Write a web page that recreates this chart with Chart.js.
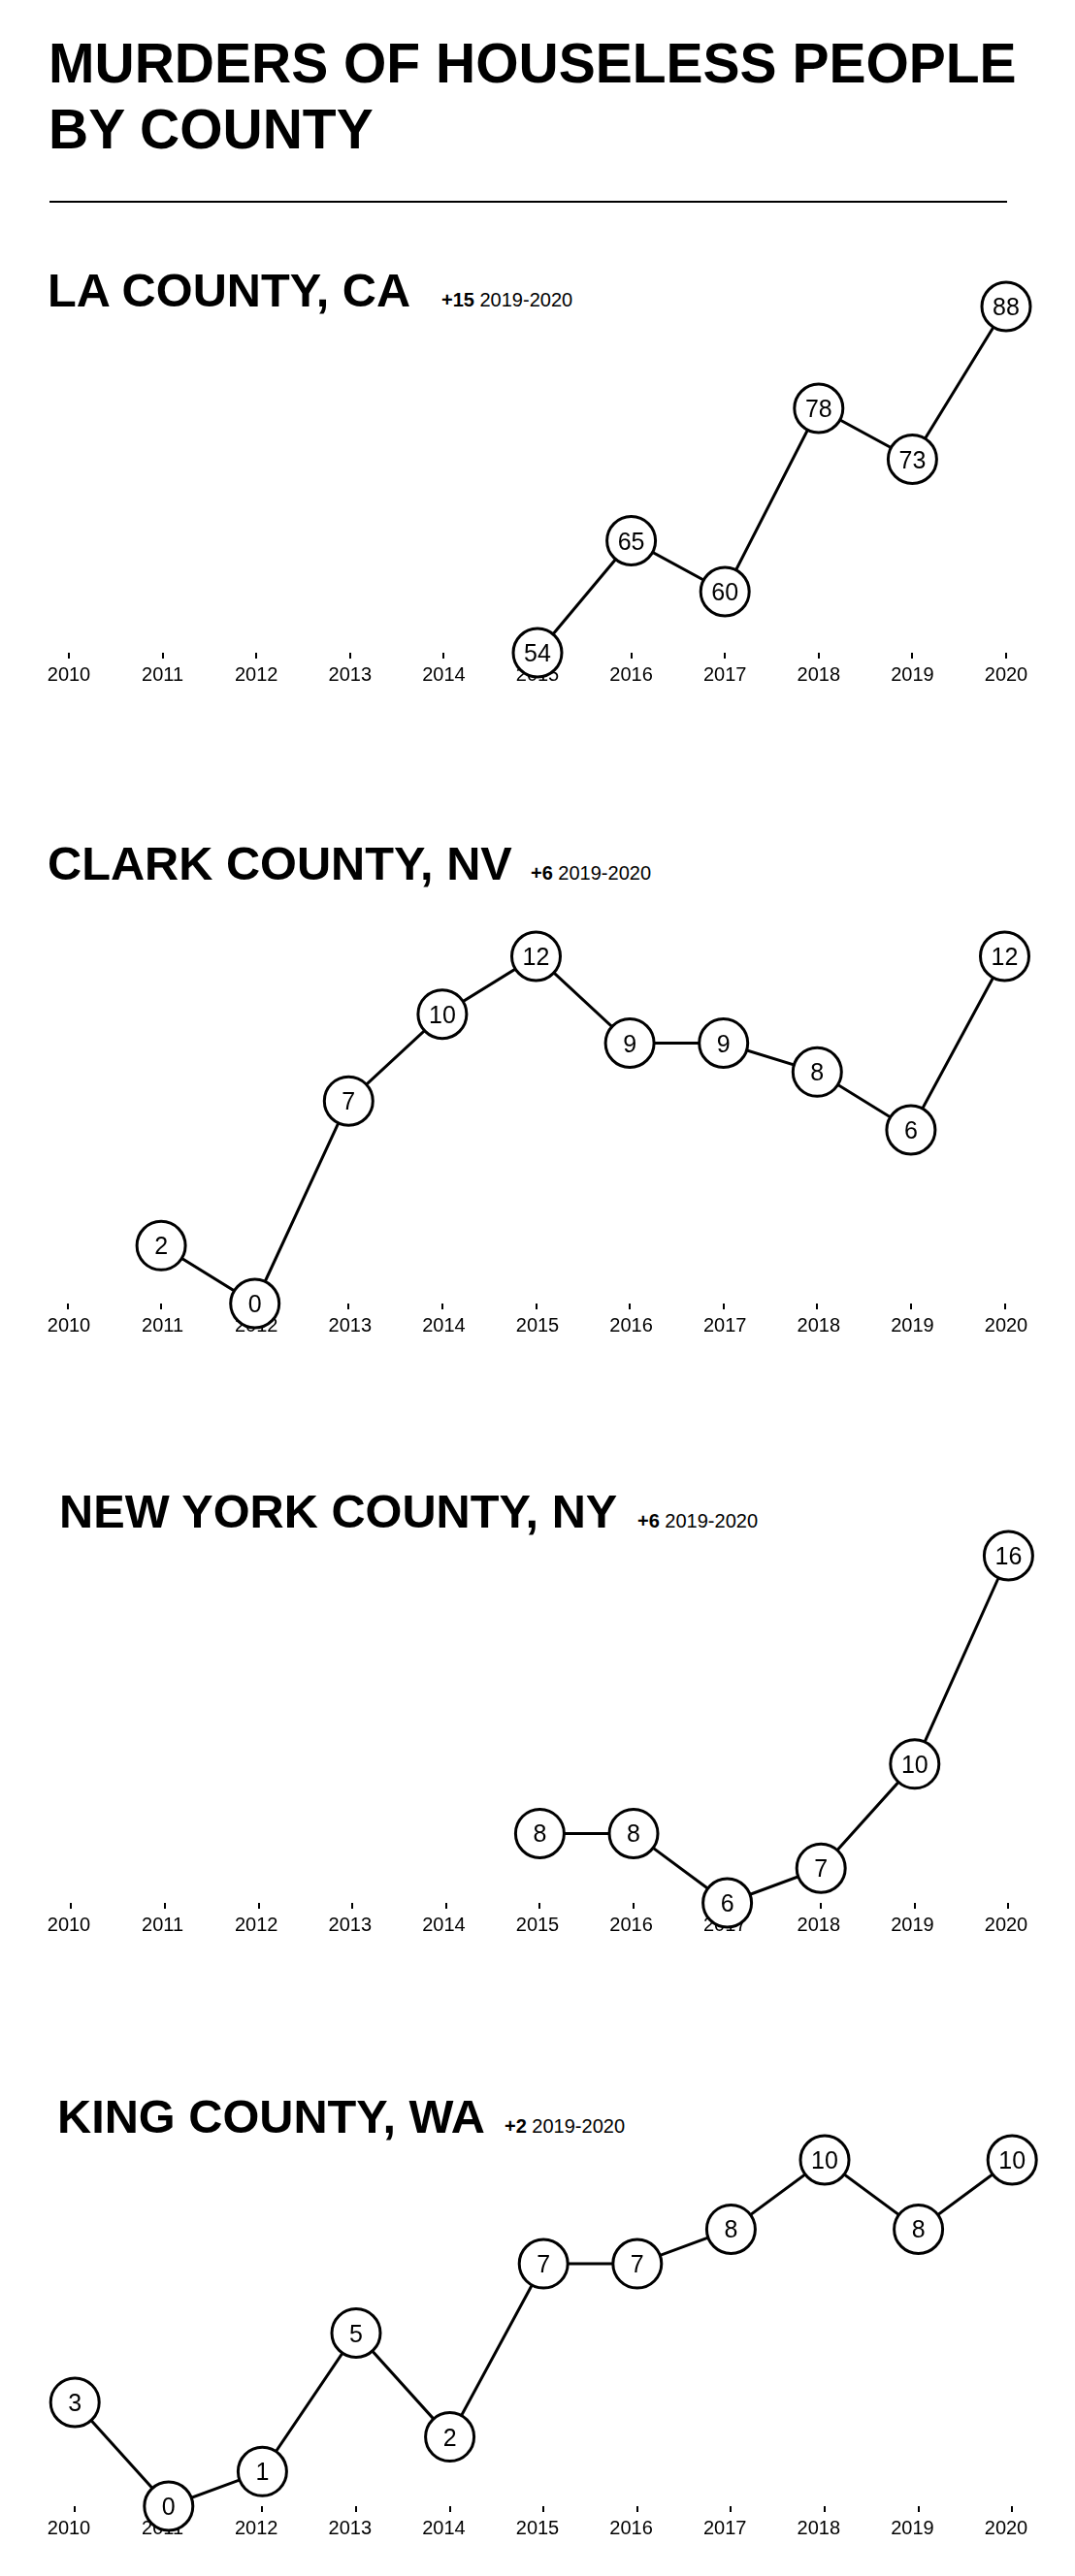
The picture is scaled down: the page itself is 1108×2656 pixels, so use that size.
<!DOCTYPE html>
<html>
<head>
<meta charset="utf-8">
<script src="https://cdn.jsdelivr.net/npm/chart.js@4.4.1/dist/chart.umd.min.js"></script>
<style>
  html, body { margin: 0; padding: 0; background: #fff; }
  body { width: 1108px; height: 2656px; position: relative; overflow: hidden; font-family: "Liberation Sans", Arial, Helvetica, sans-serif; color: #000; }
  .abs { position: absolute; white-space: nowrap; }
  .main { font-weight: bold; font-size: 57px; line-height: 57px; }
  .ctitle { font-weight: bold; font-size: 48.7px; line-height: 48.7px; }
  .sub { font-size: 20px; line-height: 20px; }
  .sub b { font-weight: bold; }
  .rule { position: absolute; height: 2px; background: #000; }
  canvas { position: absolute; left: 0; }
</style>
</head>
<body>
<script>
// ---------- DATA ----------
const years = ['2010','2011','2012','2013','2014','2015','2016','2017','2018','2019','2020'];
const laValues    = [null, null, null, null, null, 54, 65, 60, 78, 73, 88];
const clarkValues = [null, 2, 0, 7, 10, 12, 9, 9, 8, 6, 12];
const nyValues    = [null, null, null, null, null, 8, 8, 6, 7, 10, 16];
const kingValues  = [3, 0, 1, 5, 2, 7, 7, 8, 10, 8, 10];
const countyNames = ['LA COUNTY, CA', 'CLARK COUNTY, NV', 'NEW YORK COUNTY, NY', 'KING COUNTY, WA'];
const changes     = ['+15', '+6', '+6', '+2'];
const changePeriod = '2019-2020';
const mainTitleLines = ['MURDERS OF HOUSELESS PEOPLE', 'BY COUNTY'];

// ---------- LAYOUT ----------
const W = 1108;
function baselineTop(baseline, size) { return baseline - 0.8465 * size; }

function addText(cls, html, x, baseline, size) {
  const d = document.createElement('div');
  d.className = 'abs ' + cls;
  d.innerHTML = html;
  d.style.left = x + 'px';
  d.style.top = baselineTop(baseline, size) + 'px';
  document.body.appendChild(d);
  return d;
}

addText('main', mainTitleLines[0], 50, 85, 57);
addText('main', mainTitleLines[1], 50, 153, 57);
const rule = document.createElement('div');
rule.className = 'rule';
rule.style.left = '51px'; rule.style.width = '987px'; rule.style.top = '207px';
document.body.appendChild(rule);

const panels = [
  { values: laValues,    min: 54, max: 88, top: 316,  span: 356, shift: 0,    titleX: 49, titleBase: 316,  subX: 455 },
  { values: clarkValues, min: 0,  max: 12, top: 986,  span: 357, shift: -1.5, titleX: 49, titleBase: 907,  subX: 547 },
  { values: nyValues,    min: 6,  max: 16, top: 1604, span: 357, shift: 2.4,  titleX: 61, titleBase: 1575, subX: 657 },
  { values: kingValues,  min: 0,  max: 10, top: 2227, span: 356, shift: 6.2,  titleX: 59, titleBase: 2199, subX: 520 }
];

const valueLabels = {
  id: 'valueLabels',
  afterDatasetsDraw(chart) {
    const ctx = chart.ctx;
    const ds = chart.data.datasets[0];
    const meta = chart.getDatasetMeta(0);
    ctx.save();
    ctx.fillStyle = '#000';
    ctx.font = '25px "Liberation Sans", Arial, sans-serif';
    ctx.textAlign = 'center';
    ctx.textBaseline = 'alphabetic';
    meta.data.forEach((el, i) => {
      const v = ds.data[i];
      if (v === null || v === undefined) return;
      ctx.fillText(String(v), el.x, el.y + 9);
    });
    ctx.restore();
  }
};

const PAD_TOP = 40, PAD_BOTTOM = 10, TICK_LEN = 6, TICK_PAD = 5, AXIS_H = TICK_LEN + TICK_PAD + 24 + 6;

panels.forEach((p, idx) => {
  addText('ctitle', countyNames[idx], p.titleX, p.titleBase, 48.7);
  addText('sub', '<b>' + changes[idx] + '</b> ' + changePeriod, p.subX, p.titleBase, 20);

  const h = PAD_TOP + p.span + AXIS_H + PAD_BOTTOM;
  const c = document.createElement('canvas');
  c.width = W; c.height = h;
  c.style.width = W + 'px'; c.style.height = h + 'px';
  c.style.top = (p.top - PAD_TOP) + 'px';
  document.body.appendChild(c);

  new Chart(c.getContext('2d'), {
    type: 'line',
    data: {
      labels: years,
      datasets: [{
        data: p.values,
        borderColor: '#000',
        borderWidth: 3,
        pointRadius: 25,
        pointHoverRadius: 25,
        pointBackgroundColor: '#fff',
        pointBorderColor: '#000',
        pointBorderWidth: 3,
        tension: 0,
        spanGaps: false,
        clip: false,
        fill: false
      }]
    },
    options: {
      responsive: false,
      animation: false,
      devicePixelRatio: 1,
      events: [],
      layout: { padding: { top: PAD_TOP, bottom: PAD_BOTTOM, left: 71 + p.shift, right: W - 1037 - p.shift } },
      plugins: { legend: { display: false }, tooltip: { enabled: false }, title: { display: false } },
      scales: {
        x: {
          type: 'category',
          offset: false,
          border: { display: false },
          grid: { display: true, drawOnChartArea: false, drawTicks: true, tickLength: TICK_LEN, color: '#000', lineWidth: 2 },
          ticks: { color: '#000', padding: TICK_PAD, labelOffset: -p.shift, maxRotation: 0, autoSkip: false,
                   font: { family: '"Liberation Sans", Arial, sans-serif', size: 20 } }
        },
        y: { display: false, min: p.min, max: p.max }
      }
    },
    plugins: [valueLabels]
  });
});
</script>
</body>
</html>
